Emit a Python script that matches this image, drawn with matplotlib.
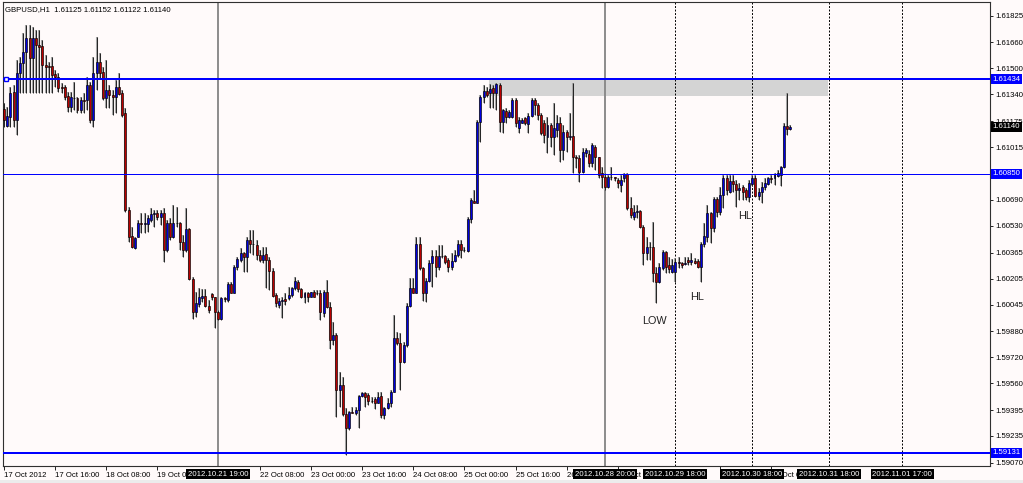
import numpy as np
import matplotlib.pyplot as plt
from matplotlib.transforms import blended_transform_factory
from matplotlib.patches import Rectangle

plt.rcParams['font.family'] = ['Liberation Sans', 'DejaVu Sans']

# GBPUSD H1 candles, values in pips above 1.5900
BASE = 1.59
opens = [224.8, 214.5, 220.3, 235.7, 218.2, 247.0, 253.5, 260.3, 268.6, 256.2,
         268.6, 264.4, 263.8, 252.1, 251.5, 251.5, 246.4, 244.5, 238.8, 238.8,
         233.0, 226.4, 232.0, 232.0, 224.4, 230.6, 230.6, 239.8, 218.2, 247.0,
         254.2, 248.0, 231.6, 236.7, 233.6, 232.6, 238.8, 234.7, 222.3, 162.8,
         146.7, 139.2, 146.3, 154.6, 154.1, 154.1, 156.6, 160.3, 160.7, 158.7,
         161.1, 138.1, 154.6, 146.3, 154.6, 154.6, 143.3, 138.1, 150.9, 120.1,
         100.1, 104.8, 108.3, 109.8, 103.6, 111.0, 108.9, 100.1, 95.4, 108.3,
         107.3, 117.2, 111.8, 127.9, 131.9, 136.1, 134.0, 144.3, 141.8, 141.2,
         135.0, 131.9, 135.5, 132.0, 125.4, 110.4, 104.2, 106.9, 107.7, 108.3,
         110.4, 114.9, 118.6, 113.9, 108.9, 111.4, 109.4, 112.0, 111.4, 111.8,
         99.1, 112.4, 103.2, 82.7, 85.7, 51.9, 54.9, 37.1, 28.2, 38.5,
         37.5, 39.5, 48.2, 50.2, 48.8, 45.3, 46.1, 44.0, 48.2, 36.5,
         40.6, 44.0, 50.8, 83.7, 80.6, 69.3, 79.6, 103.8, 114.5, 111.8,
         141.8, 126.8, 111.8, 119.2, 130.3, 134.4, 127.4, 134.4, 134.2, 132.0,
         127.9, 131.6, 135.0, 141.8, 138.1, 137.7, 157.0, 168.5, 167.3, 217.2,
         232.6, 236.3, 234.7, 237.7, 234.7, 239.8, 217.2, 224.0, 220.3, 220.3,
         230.6, 213.1, 216.2, 219.3, 215.8, 220.7, 230.6, 227.5, 221.3, 216.2,
         208.0, 215.1, 208.0, 212.1, 216.2, 199.7, 211.0, 207.5, 208.4, 195.6,
         194.6, 186.4, 198.1, 197.3, 191.5, 201.8, 195.2, 185.4, 183.3, 177.1,
         183.3, 182.9, 181.3, 178.2, 182.3, 185.0, 163.8, 158.7, 161.7, 162.4,
         152.5, 136.1, 140.2, 139.8, 123.7, 118.6, 126.8, 137.1, 128.9, 124.8,
         124.8, 130.9, 130.3, 129.5, 132.0, 130.9, 131.6, 131.6, 127.9, 141.8,
         146.3, 160.7, 151.5, 169.3, 161.7, 172.0, 182.3, 174.1, 180.8, 178.8,
         175.1, 176.7, 175.1, 171.0, 178.8, 182.3, 171.4, 174.1, 176.7, 178.8,
         182.3, 182.3, 183.7, 184.3, 189.1, 214.5, 212.5]
highs = [228.5, 226.4, 238.8, 239.8, 255.2, 257.3, 271.6, 276.8, 276.8, 275.7,
         273.7, 273.7, 267.5, 258.3, 254.2, 257.3, 249.0, 247.0, 240.8, 239.8,
         235.7, 235.7, 241.8, 232.6, 232.6, 234.7, 244.9, 241.8, 257.3, 269.6,
         259.3, 251.1, 255.2, 239.8, 236.7, 242.9, 247.0, 236.7, 225.4, 164.8,
         152.5, 146.3, 156.6, 160.7, 160.7, 159.7, 163.8, 162.8, 162.8, 162.8,
         163.8, 156.6, 157.6, 165.8, 164.8, 155.6, 147.4, 163.8, 151.5, 121.7,
         112.5, 114.5, 113.9, 113.9, 107.3, 111.8, 109.3, 101.2, 109.3, 109.3,
         118.6, 118.6, 128.9, 134.0, 139.2, 137.1, 146.3, 150.4, 150.4, 144.3,
         138.1, 140.2, 140.2, 134.0, 126.8, 111.4, 108.3, 109.4, 111.4, 115.5,
         115.5, 121.7, 119.6, 114.5, 112.4, 112.4, 112.4, 113.5, 113.5, 113.5,
         113.5, 119.6, 106.3, 93.9, 86.8, 63.2, 60.1, 40.6, 39.1, 41.6,
         41.6, 48.8, 50.8, 50.8, 50.2, 47.7, 47.7, 50.8, 50.8, 41.6,
         46.7, 51.9, 98.1, 87.8, 86.8, 81.6, 105.3, 120.7, 120.7, 146.3,
         146.3, 127.9, 120.7, 132.0, 138.1, 138.1, 141.2, 141.2, 135.0, 133.0,
         136.1, 138.1, 144.3, 144.3, 140.2, 158.7, 170.0, 175.1, 218.2, 233.6,
         239.8, 238.8, 240.4, 239.8, 240.8, 240.8, 224.8, 225.4, 224.4, 231.6,
         231.6, 220.3, 219.3, 220.3, 222.3, 231.6, 231.6, 228.5, 222.3, 218.2,
         220.3, 216.2, 228.5, 221.3, 220.3, 215.1, 212.1, 222.3, 240.8, 196.7,
         196.7, 200.8, 200.8, 199.7, 203.8, 202.8, 195.6, 189.5, 185.8, 184.3,
         189.5, 183.3, 182.3, 184.3, 185.8, 185.4, 171.0, 165.9, 165.9, 162.8,
         153.5, 146.3, 143.3, 155.6, 127.9, 129.9, 138.1, 137.7, 133.6, 132.4,
         133.0, 133.6, 130.9, 134.0, 134.0, 136.5, 133.0, 132.4, 143.3, 154.6,
         165.9, 161.7, 171.0, 171.0, 177.1, 184.3, 184.3, 184.3, 184.3, 181.3,
         179.2, 178.2, 176.1, 181.3, 184.3, 184.3, 176.1, 180.2, 182.3, 183.3,
         184.3, 185.8, 187.4, 189.9, 216.2, 234.7, 215.2]
lows = [214.1, 214.1, 214.1, 214.1, 209.0, 234.7, 234.7, 234.7, 234.7, 234.7,
        234.7, 234.7, 234.7, 234.7, 234.7, 234.7, 238.8, 235.7, 234.7, 230.6,
        223.4, 223.4, 224.4, 222.3, 222.3, 222.3, 224.4, 216.2, 214.1, 236.7,
        243.9, 230.6, 225.4, 225.4, 221.3, 222.3, 233.6, 220.3, 161.8, 143.3,
        139.2, 138.5, 146.3, 148.4, 148.4, 149.4, 155.6, 152.5, 156.6, 153.5,
        130.9, 137.1, 144.3, 145.3, 152.5, 138.1, 134.0, 137.1, 119.6, 95.4,
        97.0, 103.2, 106.3, 102.8, 99.1, 107.3, 89.8, 94.9, 94.9, 106.3,
        106.3, 111.4, 111.4, 125.8, 130.9, 124.8, 124.8, 136.1, 135.0, 131.9,
        130.9, 129.9, 114.5, 113.5, 109.4, 103.2, 102.2, 96.0, 104.2, 107.3,
        109.4, 113.5, 112.4, 108.3, 105.3, 106.3, 109.0, 108.9, 110.4, 95.0,
        97.0, 102.2, 76.9, 79.6, 35.4, 41.6, 35.8, 12.0, 27.2, 37.5,
        36.5, 28.2, 47.7, 41.6, 42.6, 43.6, 39.9, 43.6, 34.4, 33.8,
        39.9, 41.6, 50.8, 79.6, 51.9, 68.3, 78.5, 103.2, 111.4, 111.4,
        125.8, 106.9, 106.3, 118.6, 115.5, 121.7, 125.8, 133.0, 129.5, 124.8,
        125.8, 130.9, 134.0, 133.0, 137.1, 137.1, 154.6, 166.9, 166.9, 204.9,
        228.5, 232.6, 225.4, 225.4, 224.4, 211.0, 210.4, 216.6, 219.3, 219.3,
        214.1, 210.0, 216.2, 215.1, 210.4, 220.3, 221.3, 218.2, 209.0, 203.8,
        197.7, 201.8, 196.7, 208.0, 192.6, 193.6, 198.7, 205.9, 185.4, 188.4,
        180.2, 185.4, 195.6, 189.5, 189.5, 187.4, 182.3, 176.1, 175.1, 176.1,
        181.3, 180.8, 176.1, 174.1, 180.2, 162.8, 157.6, 156.6, 157.6, 151.5,
        128.9, 132.0, 132.0, 118.6, 105.3, 117.6, 125.8, 123.7, 123.7, 123.7,
        118.6, 126.8, 126.8, 128.9, 128.9, 128.9, 129.5, 126.8, 118.6, 140.2,
        143.3, 142.2, 149.4, 158.7, 159.7, 163.8, 172.0, 173.0, 174.1, 164.8,
        168.9, 168.9, 168.9, 167.9, 177.6, 171.0, 168.9, 166.9, 175.1, 178.2,
        179.2, 178.2, 183.3, 177.6, 188.4, 209.0, 212.2]
closes = [218.2, 220.7, 235.1, 218.2, 247.0, 253.5, 260.3, 268.6, 256.2, 268.6,
          264.4, 263.4, 252.1, 250.7, 251.1, 246.0, 244.5, 237.7, 237.7, 232.6,
          226.4, 232.6, 231.6, 224.4, 230.6, 229.9, 239.8, 218.2, 247.0, 254.2,
          247.0, 231.6, 236.7, 233.6, 232.2, 238.8, 234.2, 221.3, 162.8, 146.3,
          140.2, 145.3, 154.6, 154.4, 154.6, 157.6, 160.3, 160.7, 158.7, 161.1,
          138.1, 154.6, 146.3, 154.6, 155.0, 143.3, 138.1, 150.9, 120.1, 100.1,
          105.3, 108.9, 109.8, 103.6, 101.2, 108.9, 100.1, 95.4, 108.3, 107.7,
          117.2, 111.8, 127.9, 132.4, 136.1, 133.6, 144.3, 141.8, 141.6, 135.0,
          131.9, 135.0, 132.0, 125.4, 109.8, 105.3, 106.9, 107.3, 106.9, 110.4,
          114.9, 119.2, 113.9, 108.9, 111.4, 109.4, 112.0, 109.4, 111.8, 100.1,
          112.4, 103.2, 82.7, 85.7, 51.9, 54.9, 37.1, 28.2, 38.5, 37.9,
          39.5, 48.2, 50.2, 47.7, 45.3, 45.1, 43.6, 47.7, 36.5, 40.6,
          44.0, 50.8, 83.7, 80.6, 69.3, 79.6, 103.8, 114.5, 111.8, 141.8,
          126.8, 111.8, 119.2, 130.3, 134.4, 127.4, 134.4, 134.2, 130.9, 127.9,
          131.6, 135.0, 141.8, 138.1, 137.9, 157.0, 168.9, 167.3, 217.2, 232.6,
          236.3, 233.6, 237.1, 234.7, 240.4, 217.2, 224.4, 220.3, 223.4, 230.6,
          216.2, 218.2, 218.2, 216.2, 220.7, 230.6, 227.5, 221.3, 210.4, 209.0,
          215.1, 208.0, 213.1, 216.2, 199.7, 211.0, 207.5, 208.4, 195.6, 194.6,
          186.4, 198.7, 199.7, 191.5, 202.8, 195.2, 184.3, 183.3, 177.1, 183.3,
          182.9, 182.3, 179.2, 181.3, 185.0, 163.8, 159.7, 161.7, 162.4, 152.5,
          136.1, 140.2, 139.8, 123.7, 118.6, 127.9, 137.1, 127.4, 126.2, 128.9,
          130.9, 130.3, 128.9, 130.3, 130.9, 132.0, 130.3, 127.9, 141.8, 146.7,
          160.7, 151.5, 169.3, 161.7, 172.0, 182.3, 175.1, 180.8, 178.8, 175.1,
          176.5, 174.1, 171.0, 179.2, 182.3, 171.4, 174.1, 177.1, 179.2, 182.3,
          182.1, 185.0, 185.4, 189.5, 214.5, 212.5, 214.0]

symbol = 'GBPUSD,H1'
levels = [1.61434, 1.60850, 1.59131]
level_widths = [2.0, 1.0, 2.0]
zone_low, zone_high = 1.61330, 1.61434
zone_bars = (151.7, 257.7)

y_ticks = [1.61825, 1.61660, 1.61500, 1.61340, 1.61175, 1.61015, 1.60850,
           1.60690, 1.60530, 1.60365, 1.60205, 1.60045, 1.59880, 1.59720,
           1.59560, 1.59395, 1.59235, 1.59070]

# time labels (the ones fully covered by the black boxes are left out)
tick_bars = [0, 16, 32, 48, 80, 96, 112, 128, 144, 160, 176, 192, 224, 240]
tick_texts = ['17 Oct 2012', '17 Oct 16:00', '18 Oct 08:00', '19 Oct 00:00',
              '22 Oct 08:00', '23 Oct 00:00', '23 Oct 16:00', '24 Oct 08:00',
              '25 Oct 00:00', '25 Oct 16:00', '26 Oct 08:00', '29 Oct 00:00',
              '30 Oct 08:00', '31 Oct 00:00']

vline_bars = [67, 188, 210, 234, 258, 281]
vline_texts = ['2012.10.21 19:00', '2012.10.28 20:00', '2012.10.29 18:00',
               '2012.10.30 18:00', '2012.10.31 18:00', '2012.11.01 17:00']
vline_solid = [True, True, False, False, False, False]

notes = [('LOW', 203.6, 1.59944), ('HL', 216.8, 1.60091), ('HL', 231.8, 1.60591)]

o = BASE + np.array(opens) / 1e4
h = BASE + np.array(highs) / 1e4
l = BASE + np.array(lows) / 1e4
c = BASE + np.array(closes) / 1e4
x = np.arange(len(c))
up = c >= o

bg = '#fffafa'
fig = plt.figure(figsize=(10.23, 4.83), dpi=100, facecolor=bg)
ax = fig.add_axes([3 / 1023, 17 / 483, 987 / 1023, 464 / 483], facecolor=bg)
ax.set_xlim(-0.3, 308.4)
ax.set_ylim(1.59050, 1.619094)

# zone and levels
ax.add_patch(Rectangle((zone_bars[0], zone_low), zone_bars[1] - zone_bars[0],
                       zone_high - zone_low, facecolor='#d4d4d4', edgecolor='none', zorder=1))
for lev, w in zip(levels, level_widths):
    ax.axhline(lev, color='#0000ff', lw=w * 0.72, zorder=5)
ax.plot(0.5, levels[0], marker='s', ms=3.5, mfc='white', mec='#0000ff', mew=1.0, zorder=6)

# vertical lines
for b, solid in zip(vline_bars, vline_solid):
    if solid:
        ax.axvline(b, color='#8c8c8c', lw=1.4, zorder=1.5)
    else:
        ax.axvline(b, color='black', lw=0.7, ls=(0, (2, 1.6)), zorder=1.5)

# candles
ax.vlines(x, l, h, color='#a6a6a6', lw=1.5, zorder=2)
ax.vlines(x, l, h, color='black', lw=0.55, zorder=3)
ax.bar(x, np.abs(c - o), bottom=np.minimum(o, c), width=0.62,
       color=np.where(up, '#0000e0', '#bb0000'), edgecolor='black', linewidth=0.45, zorder=4)

for txt, xb, yp in notes:
    ax.text(xb, yp, txt, ha='center', va='center', fontsize=7.8, color='#222222', zorder=7)

ax.text(0.0025, 0.991, f'{symbol}  {o[-1]:.5f} {h[-1]:.5f} {l[-1]:.5f} {c[-1]:.5f}',
        transform=ax.transAxes, ha='left', va='top', fontsize=5.6, color='black')

# axes styling
for s in ax.spines.values():
    s.set_color('#303030')
    s.set_linewidth(0.8)
ax.yaxis.tick_right()
ax.set_yticks(y_ticks)
ax.set_yticklabels(['' if v in levels else f'{v:.5f}' for v in y_ticks])
ax.tick_params(axis='y', labelsize=5.6, length=2.5, width=0.6, pad=1.5, colors='black')
ax.set_xticks(tick_bars)
ax.set_xticklabels(tick_texts)
for t in ax.get_xticklabels():
    t.set_ha('left')
ax.tick_params(axis='x', labelsize=5.6, length=3, width=0.6, pad=1.2, colors='black')

# price boxes on the right
tr_y = blended_transform_factory(ax.transAxes, ax.transData)
for lev in levels:
    ax.text(1.0025, lev, f'{lev:.5f}', transform=tr_y, ha='left', va='center', fontsize=5.6,
            color='white', bbox=dict(boxstyle='square,pad=0.22', fc='#0000ff', ec='none'),
            clip_on=False, zorder=10)
ax.text(1.0025, c[-1], f'{c[-1]:.5f}', transform=tr_y, ha='left', va='center', fontsize=5.6,
        color='white', bbox=dict(boxstyle='square,pad=0.22', fc='black', ec='none'),
        clip_on=False, zorder=10)

# time boxes for vertical lines
tr_x = blended_transform_factory(ax.transData, ax.transAxes)
for b, txt in zip(vline_bars, vline_texts):
    ax.text(b, -0.0175, txt, transform=tr_x, ha='center', va='center', fontsize=5.6,
            color='white', bbox=dict(boxstyle='square,pad=0.22', fc='black', ec='none'),
            clip_on=False, zorder=10)

fig.patches.append(Rectangle((0, 0), 1, 3 / 483, transform=fig.transFigure,
                             facecolor='#ececec', edgecolor='none'))

fig.savefig('out.png', dpi=100, facecolor=bg)
